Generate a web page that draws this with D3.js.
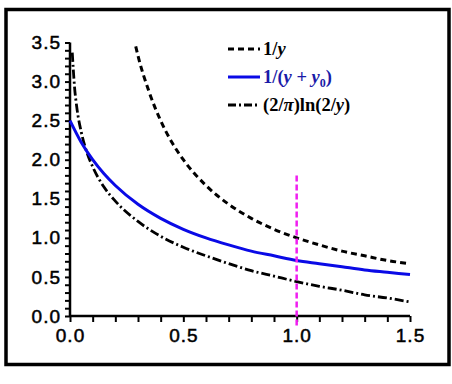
<!DOCTYPE html>
<html>
<head>
<meta charset="utf-8">
<script src="https://cdn.jsdelivr.net/npm/d3@7"></script>
<style>
  body { margin: 0; background: #fff; }
  svg text { font-family: "Liberation Sans", Arial, sans-serif; }
</style>
</head>
<body>
<div id="chart"></div>
<script>
// 1/y
const invX = [0.29, 0.3, 0.35, 0.4, 0.45, 0.5, 0.6, 0.7, 0.8, 0.9, 1.0, 1.1, 1.2, 1.3, 1.4, 1.5];
const invY = [3.45, 3.33, 2.86, 2.5, 2.22, 2.0, 1.67, 1.43, 1.25, 1.11, 1.0, 0.91, 0.83, 0.77, 0.71, 0.67];

// 1/(y+y0)
const shiftX = [0, 0.05, 0.1, 0.15, 0.2, 0.3, 0.4, 0.5, 0.6, 0.7, 0.8, 0.9, 1.0, 1.1, 1.2, 1.3, 1.4, 1.5];
const shiftY = [2.5, 2.22, 2.0, 1.82, 1.67, 1.43, 1.25, 1.11, 1.0, 0.91, 0.83, 0.77, 0.71, 0.67, 0.63, 0.59, 0.56, 0.53];

// (2/pi)ln(2/y)
const logX = [0.01, 0.02, 0.03, 0.05, 0.075, 0.1, 0.15, 0.2, 0.3, 0.4, 0.5, 0.6, 0.7, 0.8, 0.9, 1.0, 1.1, 1.2, 1.3, 1.4, 1.5];
const logY = [3.37, 2.93, 2.67, 2.35, 2.09, 1.91, 1.65, 1.47, 1.21, 1.02, 0.88, 0.77, 0.67, 0.58, 0.51, 0.44, 0.38, 0.33, 0.27, 0.23, 0.18];

// vertical marker
const markerX = 1.0;
const markerY = [-0.12, 1.83];

const xTicks = [0, 0.5, 1.0, 1.5];
const yTicks = [0, 0.5, 1.0, 1.5, 2.0, 2.5, 3.0, 3.5];

const W = 452, H = 384;
const svg = d3.select("#chart").append("svg")
    .attr("width", W)
    .attr("height", H);

// outer frame
svg.append("rect")
    .attr("x", 6).attr("y", 9.5)
    .attr("width", 443).attr("height", 355)
    .attr("fill", "none")
    .attr("stroke", "#000")
    .attr("stroke-width", 3.5);

const x = d3.scaleLinear().domain([0, 1.5]).range([70, 410]);
const y = d3.scaleLinear().domain([0, 3.5]).range([316, 42.5]);

const line = d3.line().x(d => x(d[0])).y(d => y(d[1])).curve(d3.curveMonotoneX);

// axes
const xAxis = svg.append("g")
    .attr("transform", `translate(0,${y(0)})`)
    .call(d3.axisBottom(x).tickValues(d3.range(0, 1.51, 0.1)).tickSize(6)
      .tickFormat(d => xTicks.some(t => Math.abs(t - d) < 1e-6) ? d3.format(".1f")(d) : ""));
xAxis.select(".domain").attr("stroke-width", 2.5).attr("d", `M${x(0)},0H${x(1.5)}`);
xAxis.selectAll(".tick line").attr("stroke-width", 2);
xAxis.selectAll("text").attr("font-size", 19).attr("dy", "0.92em")
    .attr("fill", "#000").attr("stroke", "#000").attr("stroke-width", 0.5)
    .attr("letter-spacing", 1);

const yAxis = svg.append("g")
    .attr("transform", `translate(${x(0)},0)`)
    .call(d3.axisLeft(y).tickValues(d3.range(0, 3.51, 0.1)).tickSize(5)
      .tickFormat(d => yTicks.some(t => Math.abs(t - d) < 1e-6) ? d3.format(".1f")(d) : ""));
yAxis.select(".domain").attr("stroke-width", 2.5).attr("d", `M0,${y(0)}V${y(3.5)}`);
yAxis.selectAll(".tick line").attr("stroke-width", 2);
yAxis.selectAll("text").attr("font-size", 19).attr("x", -9)
    .attr("fill", "#000").attr("stroke", "#000").attr("stroke-width", 0.5)
    .attr("letter-spacing", 1);

// curves
svg.append("path")
    .datum(invX.map((v, i) => [v, invY[i]]))
    .attr("d", line)
    .attr("fill", "none")
    .attr("stroke", "#000")
    .attr("stroke-width", 3)
    .attr("stroke-dasharray", "6,4");

svg.append("path")
    .datum(logX.map((v, i) => [v, logY[i]]))
    .attr("d", line)
    .attr("fill", "none")
    .attr("stroke", "#000")
    .attr("stroke-width", 2.8)
    .attr("stroke-dasharray", "9,3,2,3");

svg.append("path")
    .datum(shiftX.map((v, i) => [v, shiftY[i]]))
    .attr("d", line)
    .attr("fill", "none")
    .attr("stroke", "#0a0ae6")
    .attr("stroke-width", 3);

svg.append("line")
    .attr("x1", x(markerX)).attr("x2", x(markerX))
    .attr("y1", y(markerY[0])).attr("y2", y(markerY[1]))
    .attr("stroke", "#f01ef0")
    .attr("stroke-width", 2.5)
    .attr("stroke-dasharray", "6,3");

// legend
const legendItems = [
  { dash: "6,4", color: "#000", text: [["1/", ""], ["y", "i"]] },
  { dash: null, color: "#0a0ae6", text: [["1/(", ""], ["y", "i"], [" + ", ""], ["y", "i"], ["0", "sub"], [")", ""]] },
  { dash: "8,3,2,3", color: "#000", text: [["(2/", ""], ["π", "i"], [")ln(2/", ""], ["y", "i"], [")", ""]] }
];
const lg = svg.append("g").attr("transform", "translate(228,49)");
legendItems.forEach((it, i) => {
  const row = lg.append("g").attr("transform", `translate(0,${i * 28})`);
  row.append("line")
      .attr("x1", 0).attr("x2", 32).attr("y1", 0).attr("y2", 0)
      .attr("stroke", it.color)
      .attr("stroke-width", 3)
      .attr("stroke-dasharray", it.dash);
  const t = row.append("text")
      .attr("x", 35).attr("y", 6)
      .style("font-family", "'Liberation Serif', 'Times New Roman', serif")
      .attr("font-weight", "bold")
      .attr("font-size", 18.5)
      .attr("fill", i === 1 ? "#1a1aa8" : "#000");
  it.text.forEach(([s, k]) => {
    const ts = t.append("tspan").text(s);
    if (k === "i") ts.attr("font-style", "italic");
    if (k === "sub") ts.attr("font-size", 12).attr("dy", 4);
    else if (k !== "sub" && t.selectAll("tspan").size() > 1 && it.text[t.selectAll("tspan").size() - 2][1] === "sub") ts.attr("dy", -4);
  });
});
</script>
</body>
</html>
